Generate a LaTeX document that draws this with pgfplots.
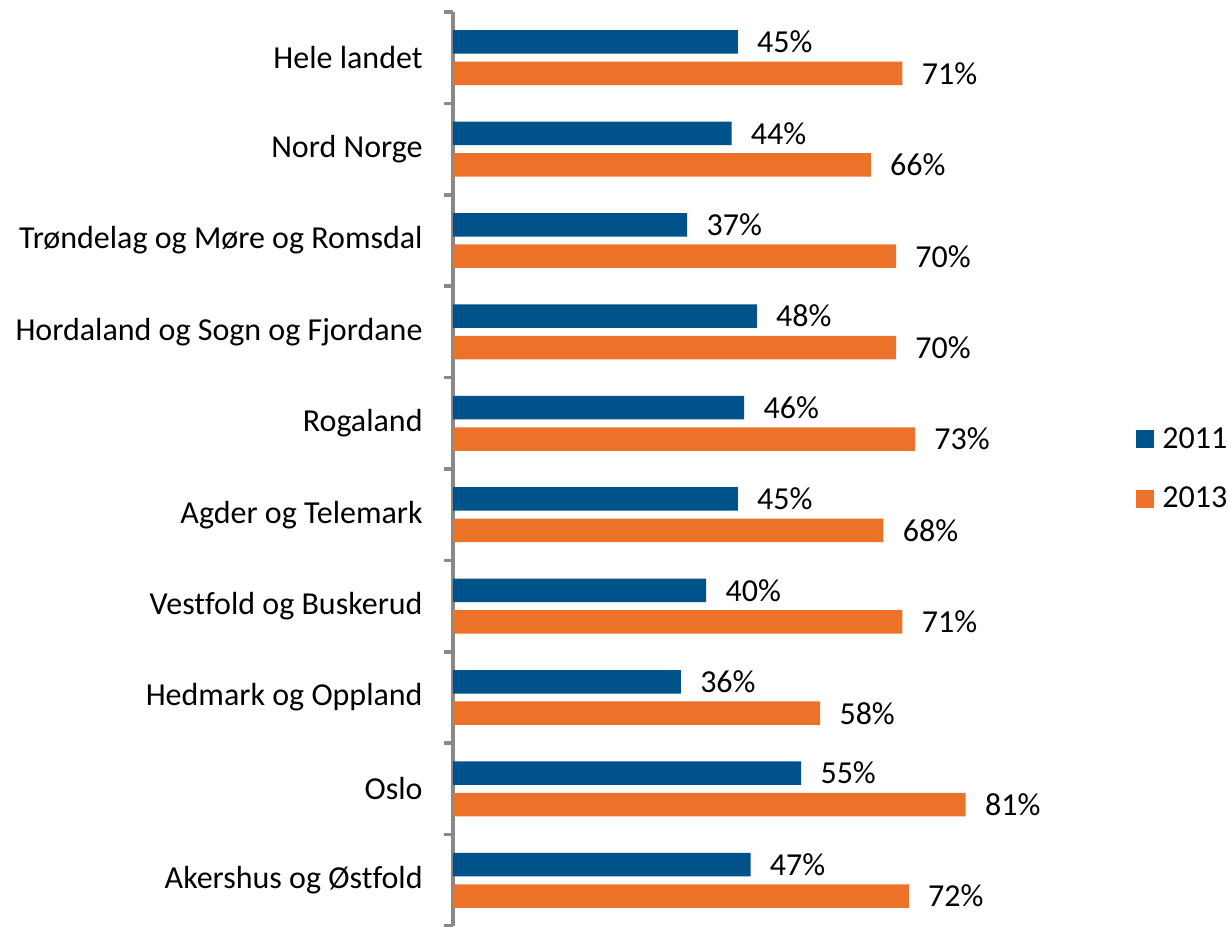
\documentclass[border=0pt]{standalone}
\usepackage{pgfplots}
\pgfplotsset{compat=1.18}
\usepackage{fontspec}
\setmainfont[Ligatures=NoCommon]{Carlito}
\definecolor{cblue}{RGB}{0,83,138}
\definecolor{corange}{RGB}{236,113,41}
\definecolor{axgray}{RGB}{137,137,137}
\newcommand{\cf}{\fontsize{16}{19.2}\selectfont}
\begin{document}
\begin{tikzpicture}
\begin{axis}[
  scale only axis, width=316.5pt, height=457pt,
  xmin=0, xmax=100, ymin=-0.5, ymax=9.5, y dir=reverse,
  enlargelimits=false, clip=false,
  axis x line=none, axis y line*=left,
  y axis line style={draw=axgray, line width=1.75pt},
  ytick={0,1,2,3,4,5,6,7,8,9},
  yticklabels={Hele landet, Nord Norge, Trøndelag og Møre og Romsdal, Hordaland og Sogn og Fjordane, Rogaland, Agder og Telemark, Vestfold og Buskerud, Hedmark og Oppland, Oslo, Akershus og Østfold},
  minor ytick={-0.5,0.5,1.5,2.5,3.5,4.5,5.5,6.5,7.5,8.5,9.5},
  major tick length=0pt, minor tick length=4.5pt,
  tick align=outside,
  ytick style={draw=axgray, line width=1.75pt},
  yticklabel style={font=\cf, anchor=east, inner sep=0pt, xshift=-15pt},
  xbar, bar width=11.75pt, bar shift=0pt,
  point meta=x,
  nodes near coords={\pgfmathprintnumber{\pgfplotspointmeta}\%},
  nodes near coords style={font=\cf, anchor=west, inner sep=0pt, xshift=9.5pt},
  /pgf/number format/assume math mode=true,
  legend image code/.code={\fill[#1] (0pt,-4.5pt) rectangle (9pt,4.5pt);},
  legend cell align=left,
  legend style={draw=none, fill=none, at={(axis description cs:1.079,0.5)}, anchor=west, inner sep=0pt, font=\cf, row sep=14pt,
    /tikz/every odd column/.append style={column sep=2pt}},
]
\addplot[fill=cblue, draw=none] coordinates {
(45,-0.172) (44,0.828) (37,1.828) (48,2.828) (46,3.828) (45,4.828) (40,5.828) (36,6.828) (55,7.828) (47,8.828)};
\addlegendentry{2011}
\addplot[fill=corange, draw=none] coordinates {
(71,0.172) (66,1.172) (70,2.172) (70,3.172) (73,4.172) (68,5.172) (71,6.172) (58,7.172) (81,8.172) (72,9.172)};
\addlegendentry{2013}
\end{axis}
\pgfresetboundingbox
\path (-226.5pt,-0.5pt) rectangle (387.5pt,463pt);
\end{tikzpicture}
\end{document}
